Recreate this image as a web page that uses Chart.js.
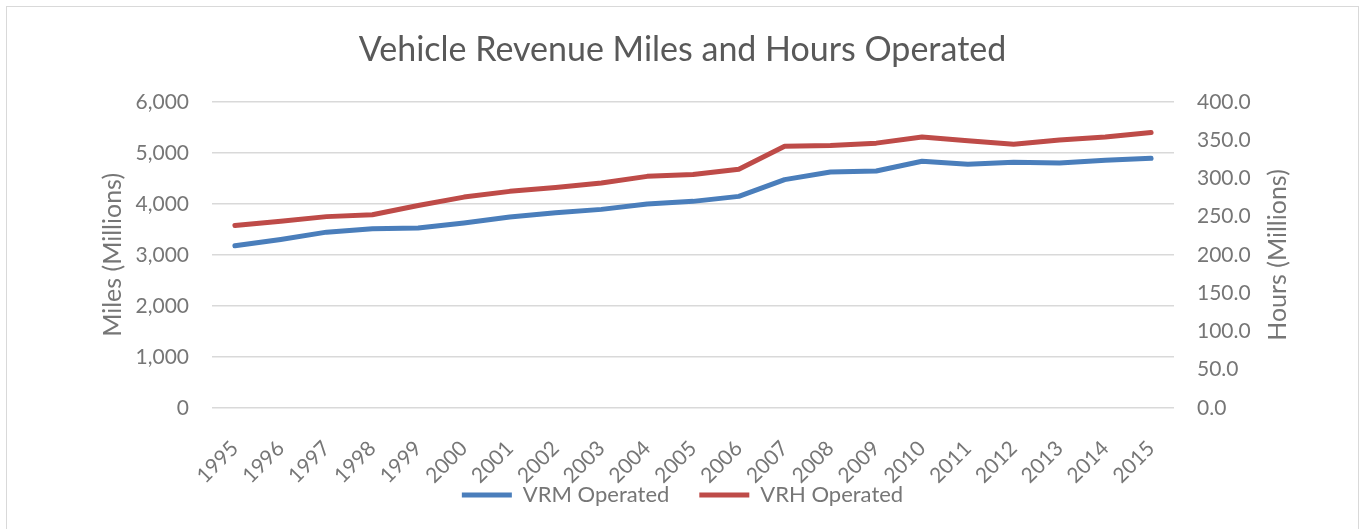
<!DOCTYPE html>
<html lang="en">
<head>
    <meta charset="UTF-8">
    <title>Vehicle Revenue Miles and Hours Operated</title>
    <script src="https://cdn.jsdelivr.net/npm/chart.js"></script>
    <style>
        body {
            margin: 0;
            background: #ffffff;
            font-family: 'Lato', sans-serif;
        }
        .frame {
            position: absolute;
            left: 6px;
            top: 6px;
            width: 1351px;
            height: 540px;
            border: 1.5px solid #d9d9d9;
            pointer-events: none;
        }
        #chart {
            position: absolute;
            left: 0;
            top: 0;
        }
    </style>
</head>
<body>
    <canvas id="chart" width="1365" height="529"></canvas>
    <div class="frame"></div>

    <script>
        const years = ['1995', '1996', '1997', '1998', '1999', '2000', '2001', '2002', '2003', '2004',
                       '2005', '2006', '2007', '2008', '2009', '2010', '2011', '2012', '2013', '2014', '2015'];
        // miles, millions (left axis)
        const vrmOperated = [3178, 3302, 3446, 3512, 3525, 3623, 3741, 3826, 3892, 3997,
                             4049, 4147, 4475, 4625, 4645, 4835, 4776, 4815, 4802, 4855, 4894];
        // hours, millions (right axis)
        const vrhOperated = [238.4, 244.0, 250.0, 252.5, 264.6, 275.5, 283.0, 288.0, 294.0, 302.6,
                             305.0, 312.0, 342.0, 343.0, 346.0, 354.0, 349.0, 344.6, 350.0, 354.0, 360.0];
        const milesTicks = [0, 6000, 1000];
        const hoursTicks = [0, 400, 50];

        const textGray = '#767676';
        const tickFont = { family: 'Lato', size: 21 };

        // right axis title reads bottom-to-top like Excel, so draw it ourselves
        const rightTitle = {
            id: 'rightTitle',
            beforeDraw(chart) {
                // let the slanted year labels run past the x scale box instead of being cut
                chart.scales.x._computeLabelArea = () => undefined;
            },
            afterDraw(chart) {
                const ctx = chart.ctx;
                ctx.save();
                ctx.translate(1278, 255);
                ctx.rotate(-Math.PI / 2);
                ctx.font = '25px Lato';
                ctx.fillStyle = textGray;
                ctx.textAlign = 'center';
                ctx.textBaseline = 'middle';
                ctx.fillText('Hours (Millions)', 0, 0);
                ctx.restore();
            }
        };

        new Chart(document.getElementById('chart'), {
            type: 'line',
            data: {
                labels: years,
                datasets: [{
                    label: 'VRM Operated',
                    data: vrmOperated,
                    yAxisID: 'miles',
                    borderColor: '#4a7ebb',
                    backgroundColor: '#4a7ebb',
                    borderWidth: 5,
                    borderCapStyle: 'round',
                    borderJoinStyle: 'round',
                    pointRadius: 0,
                    tension: 0
                }, {
                    label: 'VRH Operated',
                    data: vrhOperated,
                    yAxisID: 'hours',
                    borderColor: '#be4b48',
                    backgroundColor: '#be4b48',
                    borderWidth: 5,
                    borderCapStyle: 'round',
                    borderJoinStyle: 'round',
                    pointRadius: 0,
                    tension: 0
                }]
            },
            options: {
                responsive: false,
                animation: false,
                devicePixelRatio: 1,
                layout: { padding: { left: 0, right: 0, top: 0, bottom: 13 } },
                plugins: {
                    title: {
                        display: true,
                        text: 'Vehicle Revenue Miles and Hours Operated',
                        color: '#595959',
                        font: { family: 'Lato', size: 34, weight: 'normal', lineHeight: 1.2 },
                        padding: { top: 30, bottom: 31 }
                    },
                    legend: {
                        position: 'bottom',
                        labels: {
                            color: textGray,
                            font: { family: 'Lato', size: 22 },
                            usePointStyle: true,
                            pointStyle: 'line',
                            pointStyleWidth: 50,
                            boxHeight: 5,
                            padding: 30
                        }
                    },
                    tooltip: { enabled: false }
                },
                scales: {
                    x: {
                        offset: true,
                        grid: { display: false },
                        border: { display: false },
                        ticks: {
                            color: textGray,
                            font: tickFont,
                            minRotation: 45,
                            maxRotation: 45,
                            padding: 20
                        },
                        afterFit(scale) { scale.height = 46; }
                    },
                    miles: {
                        position: 'left',
                        min: milesTicks[0],
                        max: milesTicks[1],
                        grid: { color: '#d9d9d9', lineWidth: 1.5, drawTicks: false },
                        border: { display: false },
                        ticks: {
                            stepSize: milesTicks[2],
                            color: textGray,
                            font: tickFont,
                            padding: 23,
                            callback: v => v.toLocaleString('en-US')
                        },
                        title: {
                            display: true,
                            text: 'Miles (Millions)',
                            color: textGray,
                            font: { family: 'Lato', size: 25, lineHeight: 1.2 },
                            padding: { top: 98, bottom: 0 }
                        },
                        afterFit(scale) { scale.width = 212; }
                    },
                    hours: {
                        position: 'right',
                        min: hoursTicks[0],
                        max: hoursTicks[1],
                        grid: { display: false, drawTicks: false },
                        border: { display: false },
                        ticks: {
                            stepSize: hoursTicks[2],
                            color: textGray,
                            font: tickFont,
                            padding: 23,
                            callback: v => v.toFixed(1)
                        },
                        afterFit(scale) { scale.width = 191; }
                    }
                }
            },
            plugins: [rightTitle]
        });
    </script>
</body>
</html>
